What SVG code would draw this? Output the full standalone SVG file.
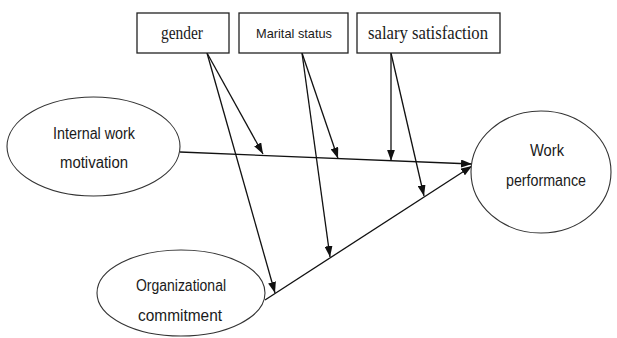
<svg xmlns="http://www.w3.org/2000/svg" width="617" height="338" viewBox="0 0 617 338">
<style>
.box{fill:#fff;stroke:#222;stroke-width:1.3}
.ell{fill:#fff;stroke:#333;stroke-width:1.1}
.ln{stroke:#111;stroke-width:1.3;fill:none}
.t{font-family:"Liberation Sans",Arial,sans-serif;font-size:16px;fill:#1a1a1a;text-anchor:middle}
.s{font-family:"Liberation Serif","Times New Roman",serif;font-size:18px;fill:#1a1a1a;text-anchor:middle}
</style>
<defs>
<marker id="ah" viewBox="0 0 11 8" refX="11" refY="4" markerWidth="11" markerHeight="8" markerUnits="userSpaceOnUse" orient="auto">
<path d="M0,0 L11,4 L0,8 Z" fill="#111"/>
</marker>
</defs>
<rect width="617" height="338" fill="#fff"/>
<g id="connectors">
<line class="ln" x1="180" y1="152" x2="472" y2="164" marker-end="url(#ah)"/>
<line class="ln" x1="265" y1="300" x2="472" y2="166" marker-end="url(#ah)"/>
<line class="ln" x1="207" y1="53" x2="263" y2="154" marker-end="url(#ah)"/>
<line class="ln" x1="207" y1="53" x2="275" y2="293" marker-end="url(#ah)"/>
<line class="ln" x1="302" y1="53" x2="338" y2="158.5" marker-end="url(#ah)"/>
<line class="ln" x1="302" y1="53" x2="330" y2="257" marker-end="url(#ah)"/>
<line class="ln" x1="391" y1="53" x2="391" y2="160.7" marker-end="url(#ah)"/>
<line class="ln" x1="391" y1="53" x2="424" y2="196" marker-end="url(#ah)"/>
</g>
<g id="gender">
<rect class="box" x="137" y="13" width="92" height="40"/>
<text class="s" x="182" y="39" textLength="42" lengthAdjust="spacingAndGlyphs">gender</text>
</g>
<g id="marital">
<rect class="box" x="239" y="13" width="109" height="40"/>
<text class="t" x="294" y="38" style="font-size:13.5px" textLength="76" lengthAdjust="spacingAndGlyphs">Marital status</text>
</g>
<g id="salary">
<rect class="box" x="357" y="13" width="143" height="40"/>
<text class="s" x="428" y="39" textLength="120" lengthAdjust="spacingAndGlyphs">salary  satisfaction</text>
</g>
<g id="iwm">
<ellipse class="ell" cx="93.5" cy="146.5" rx="86.5" ry="49.5"/>
<text class="t" x="94" y="139" textLength="82" lengthAdjust="spacingAndGlyphs">Internal work</text>
<text class="t" x="94" y="168" textLength="68" lengthAdjust="spacingAndGlyphs">motivation</text>
</g>
<g id="wp">
<ellipse class="ell" cx="541" cy="172" rx="70" ry="61"/>
<text class="t" x="547" y="156" textLength="34" lengthAdjust="spacingAndGlyphs">Work</text>
<text class="t" x="546" y="186" textLength="80" lengthAdjust="spacingAndGlyphs">performance</text>
</g>
<g id="oc">
<ellipse class="ell" cx="181" cy="293" rx="84" ry="43"/>
<text class="t" x="181" y="291" textLength="90" lengthAdjust="spacingAndGlyphs">Organizational</text>
<text class="t" x="180" y="321" textLength="84" lengthAdjust="spacingAndGlyphs">commitment</text>
</g>
</svg>
